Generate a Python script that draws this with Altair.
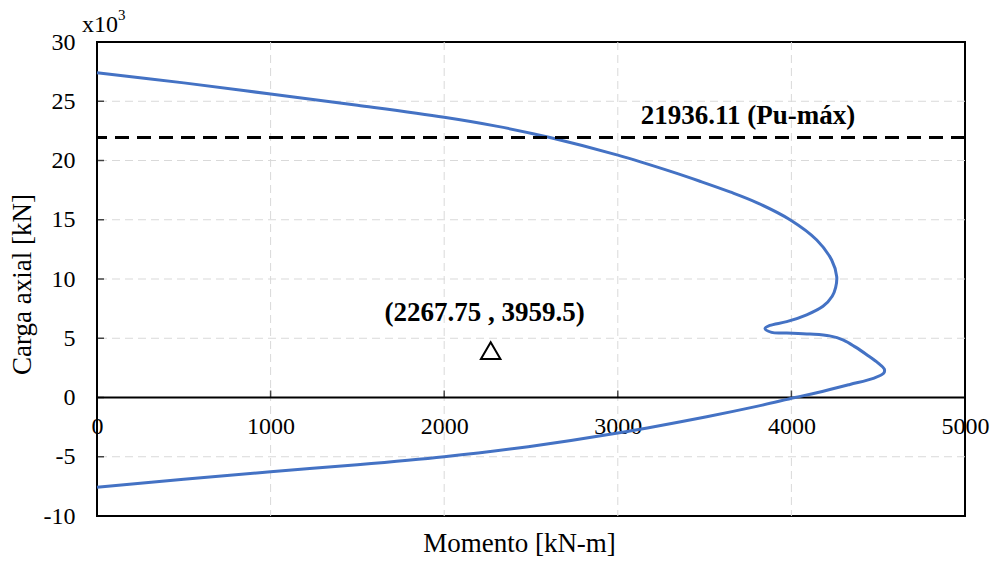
import altair as alt
import pandas as pd

# Interaction diagram (moment vs axial load), axial in thousands of kN
moment = [0, 500, 1000, 1500, 2000, 2300, 2609, 3000, 3300, 3473, 3646, 3800, 3992,
          4146, 4232, 4261, 4255, 4235, 4182, 4088, 3973, 3876, 3848, 3886, 3973,
          4107, 4220, 4300, 4370, 4440, 4500, 4535, 4532, 4472, 4337, 4146, 4021,
          3800, 3512, 3000, 2484, 2000, 1500, 1000, 500, 0]
axial_k = [27.41, 26.55, 25.61, 24.66, 23.65, 22.9, 21.94, 20.45, 19.1, 18.25, 17.35,
           16.45, 15.0, 13.29, 11.6, 10.2, 9.3, 8.55, 7.7, 6.98, 6.40, 6.08, 5.82,
           5.5, 5.45, 5.36, 5.2, 4.85, 4.25, 3.55, 2.9, 2.4, 2.05, 1.62, 1.1, 0.4,
           0.0, -0.75, -1.62, -3.0, -4.15, -5.0, -5.68, -6.26, -6.9, -7.58]

pu_max = 21936.11          # kN
demand_m = 2267.75         # kN-m
demand_p = 3959.5          # kN

x_ticks = [0, 1000, 2000, 3000, 4000, 5000]
y_ticks = [-10, -5, 0, 5, 10, 15, 20, 25, 30]
x_grid = [1000, 2000, 3000, 4000]
y_grid = [-5, 5, 10, 15, 20, 25]

FONT = "Liberation Serif"
W, H = 868, 474

xscale = alt.Scale(domain=[0, 5000], nice=False, zero=False)
yscale = alt.Scale(domain=[-10, 30], nice=False, zero=False)
zero_px = H * (30 - 0) / 40.0

xaxis = alt.Axis(values=x_ticks, grid=False, domain=False, ticks=False, tickSize=0,
                 labelFont=FONT, labelFontSize=24, labelColor="black",
                 labelPadding=17, labelFlush=False, labelOverlap=False,
                 labelExpr="'' + datum.value",
                 offset=-(H - zero_px),
                 title="Momento [kN-m]", titleFont=FONT, titleFontSize=27,
                 titleFontWeight="normal", titleColor="black",
                 titleX=422, titleY=145.5, titleAlign="center", titleBaseline="middle")
yaxis = alt.Axis(values=y_ticks, grid=False, domain=False, ticks=False, tickSize=0,
                 labelFont=FONT, labelFontSize=24, labelColor="black",
                 labelPadding=22, labelFlush=False, labelOverlap=False,
                 labelExpr="'' + datum.value",
                 title="Carga axial [kN]", titleFont=FONT, titleFontSize=27,
                 titleFontWeight="normal", titleColor="black",
                 titleX=-75, titleY=242, titleAngle=270, titleAlign="center",
                 titleBaseline="middle")


def X(field):
    return alt.X(field, type="quantitative", scale=xscale, axis=xaxis)


def Y(field):
    return alt.Y(field, type="quantitative", scale=yscale, axis=yaxis)


curve_df = pd.DataFrame({"M": moment, "P": axial_k, "i": range(len(moment))})
xgrid_df = pd.DataFrame({"M": x_grid})
ygrid_df = pd.DataFrame({"P": y_grid})
zero_df = pd.DataFrame({"P": [0]})
xtick_df = pd.DataFrame({"M": x_ticks, "P": [0] * len(x_ticks)})
ytick_df = pd.DataFrame({"M": [0] * len(y_ticks), "P": y_ticks})
pu_df = pd.DataFrame({"P": [pu_max / 1000.0], "M": [3750],
                      "label": [f"{pu_max:.2f} (Pu-máx)"]})
pt_df = pd.DataFrame({"M": [demand_m], "P": [demand_p / 1000.0],
                      "label": [f"({demand_m:.2f} , {demand_p:.1f})"]})
exp_df = pd.DataFrame({"M": [0], "P": [30], "base": ["x10"], "pow": ["3"]})

grid_style = dict(color="#D9D9D9", strokeWidth=1, strokeDash=[8, 5])

gx = alt.Chart(xgrid_df).mark_rule(**grid_style).encode(x=X("M"))
gy = alt.Chart(ygrid_df).mark_rule(**grid_style).encode(y=Y("P"))
zero = alt.Chart(zero_df).mark_rule(color="black", strokeWidth=2).encode(y=Y("P"))
xt = alt.Chart(xtick_df).mark_tick(orient="vertical", color="black", size=7,
                                   thickness=1.5, yOffset=-3.5).encode(x=X("M"), y=Y("P"))
yt = alt.Chart(ytick_df).mark_tick(orient="horizontal", color="black", size=7,
                                   thickness=1.5, xOffset=3.5).encode(x=X("M"), y=Y("P"))

curve = alt.Chart(curve_df).mark_line(color="#4472C4", strokeWidth=3,
                                      interpolate="catmull-rom").encode(
    x=X("M"), y=Y("P"), order="i:Q")

pu_line = alt.Chart(pu_df).mark_rule(color="black", strokeWidth=3,
                                     strokeDash=[14, 8]).encode(y=Y("P"))
pu_text = alt.Chart(pu_df).mark_text(font=FONT, fontSize=27, fontWeight="bold",
                                     color="black", dy=-22, baseline="middle",
                                     align="center").encode(x=X("M"), y=Y("P"), text="label")

pt = alt.Chart(pt_df).mark_point(shape="triangle-up", size=380, filled=False,
                                 color="black", strokeWidth=2, opacity=1).encode(
    x=X("M"), y=Y("P"))
pt_text = alt.Chart(pt_df).mark_text(font=FONT, fontSize=27, fontWeight="bold",
                                     color="black", dx=-6, dy=-38, baseline="middle",
                                     align="center").encode(x=X("M"), y=Y("P"), text="label")

exp_base = alt.Chart(exp_df).mark_text(font=FONT, fontSize=24, color="black",
                                       dx=-15, dy=-17, align="left",
                                       baseline="middle").encode(x=X("M"), y=Y("P"), text="base")
exp_pow = alt.Chart(exp_df).mark_text(font=FONT, fontSize=15, color="black",
                                      dx=21, dy=-27, align="left",
                                      baseline="middle").encode(x=X("M"), y=Y("P"), text="pow")

chart = alt.layer(gx, gy, zero, xt, yt, curve, pu_line, pu_text, pt, pt_text,
                  exp_base, exp_pow).properties(
    width=W, height=H,
    autosize=alt.AutoSizeParams(type="none"),
    padding={"left": 97, "top": 42, "right": 31, "bottom": 45},
    background="white",
).configure_view(stroke="black", strokeWidth=2)

chart.save("out.html", embed_options={"renderer": "svg", "actions": False})
